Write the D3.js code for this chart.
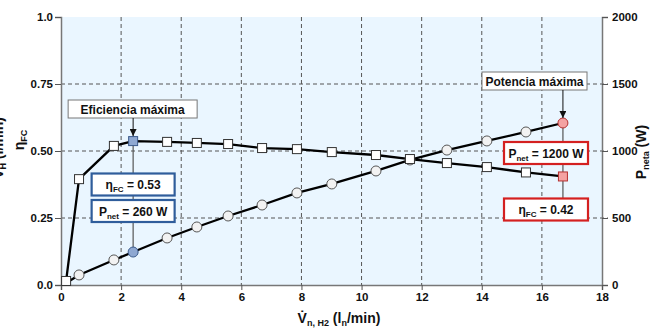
<!DOCTYPE html>
<html>
<head>
<meta charset="utf-8">
<script src="https://cdn.jsdelivr.net/npm/d3@7"></script>
<style>
  body { margin: 0; background: #fff; }
  text { font-family: "Liberation Sans", Arial, sans-serif; font-weight: bold; fill: #111; }
</style>
</head>
<body>
<svg id="chart" width="662" height="329"></svg>
<script>
// flow of hydrogen (ln/min)
const flow = [0.17, 0.6, 1.76, 2.4, 3.53, 4.52, 5.56, 6.69, 7.85, 9.01, 10.48, 11.61, 12.84, 14.17, 15.47, 16.7];
// fuel cell efficiency (left axis)
const eta = [0.015, 0.395, 0.519, 0.537, 0.534, 0.53, 0.526, 0.511, 0.507, 0.496, 0.485, 0.47, 0.455, 0.44, 0.42, 0.405];
// net power in W (right axis)
const pnet = [15, 75, 187, 246, 351, 433, 515, 597, 687, 754, 851, 933, 1007, 1075, 1142, 1209];

const xTicks = [0, 2, 4, 6, 8, 10, 12, 14, 16, 18];
const etaTicks = [0, 0.25, 0.5, 0.75, 1];
const etaLabels = ["0.0", "0.25", "0.50", "0.75", "1.0"];
const pTicks = [0, 500, 1000, 1500, 2000];

const maxEffIdx = 3;   // "Eficiencia máxima"
const maxPowIdx = 15;  // "Potencia máxima"

const svg = d3.select("#chart");
const pL = 61, pR = 602, pT = 17, pB = 285;

const x = d3.scaleLinear().domain([0, 18]).range([pL, pR]);
const yE = d3.scaleLinear().domain([0, 1]).range([pB, pT]);
const yP = d3.scaleLinear().domain([0, 2000]).range([pB, pT]);

svg.append("defs").append("marker")
  .attr("id", "arr").attr("viewBox", "0 0 10 10").attr("refX", 10).attr("refY", 5)
  .attr("markerWidth", 7).attr("markerHeight", 7).attr("orient", "auto")
  .append("path").attr("d", "M0,0 L10,5 L0,10 z").attr("fill", "#111");

svg.append("rect").attr("x", pL).attr("y", pT)
  .attr("width", pR - pL).attr("height", pB - pT).attr("fill", "#eaf6ff");

// grid
const grid = svg.append("g").attr("stroke", "#555").attr("stroke-dasharray", "4,3").attr("stroke-width", 1);
grid.selectAll("line.v").data(xTicks.slice(1, -1)).join("line").attr("class", "v")
  .attr("x1", d => x(d)).attr("x2", d => x(d)).attr("y1", pT).attr("y2", pB);
grid.selectAll("line.h").data(etaTicks.slice(1, -1)).join("line").attr("class", "h")
  .attr("x1", pL).attr("x2", pR + 6).attr("y1", d => yE(d)).attr("y2", d => yE(d));

// axes
const gx = svg.append("g").attr("transform", `translate(0,${pB})`)
  .call(d3.axisBottom(x).tickValues(xTicks).tickSize(5).tickPadding(3));
const gl = svg.append("g").attr("transform", `translate(${pL},0)`)
  .call(d3.axisLeft(yE).tickValues(etaTicks).tickFormat((d, i) => etaLabels[i]).tickSize(6).tickPadding(2));
const gr = svg.append("g").attr("transform", `translate(${pR},0)`)
  .call(d3.axisRight(yP).tickValues(pTicks).tickFormat(d3.format("d")).tickSize(6).tickPadding(4));
[gx, gl, gr].forEach(g => {
  g.select(".domain").attr("stroke", "#777").attr("stroke-width", 1.5);
  g.selectAll(".tick line").attr("stroke", "#555");
  g.selectAll(".tick text").attr("font-size", 11.5).attr("font-weight", "bold")
    .attr("font-family", "Liberation Sans, Arial, sans-serif").attr("fill", "#111");
});

// connector lines for highlighted points
const conn = svg.append("g").attr("stroke", "#555").attr("stroke-width", 1.2);
conn.append("line").attr("x1", x(flow[maxEffIdx])).attr("x2", x(flow[maxEffIdx]))
  .attr("y1", yE(eta[maxEffIdx])).attr("y2", yP(pnet[maxEffIdx]));
conn.append("line").attr("x1", x(flow[maxPowIdx])).attr("x2", x(flow[maxPowIdx]))
  .attr("y1", yP(pnet[maxPowIdx])).attr("y2", yE(eta[maxPowIdx]) + 30);

// lines
const idx = d3.range(flow.length);
svg.append("path").datum(idx).attr("fill", "none").attr("stroke", "#000").attr("stroke-width", 2.3)
  .attr("d", d3.line().x(i => x(flow[i])).y(i => yP(pnet[i])));
svg.append("path").datum(idx).attr("fill", "none").attr("stroke", "#000").attr("stroke-width", 2.3)
  .attr("d", d3.line().x(i => x(flow[i])).y(i => yE(eta[i])));

// markers
const fillFor = (i, base) => i === maxEffIdx ? "#8ea8d2" : i === maxPowIdx ? "#f4a2a2" : base;
const strokeFor = i => i === maxEffIdx ? "#3b5b8c" : i === maxPowIdx ? "#b53030" : "#555";
svg.append("g").selectAll("circle").data(idx.slice(1)).join("circle")
  .attr("cx", i => x(flow[i])).attr("cy", i => yP(pnet[i])).attr("r", 5)
  .attr("fill", i => fillFor(i, "#f2f2f2")).attr("stroke", strokeFor).attr("stroke-width", 1);
svg.append("g").selectAll("rect").data(idx).join("rect")
  .attr("x", i => x(flow[i]) - 4.5).attr("y", i => yE(eta[i]) - 4.5).attr("width", 9).attr("height", 9)
  .attr("fill", i => fillFor(i, "#fff")).attr("stroke", i => i === maxEffIdx || i === maxPowIdx ? strokeFor(i) : "#333")
  .attr("stroke-width", 1);

// annotation helpers
function box(cx, cy, w, h, color, sw) {
  svg.append("rect").attr("x", cx - w / 2).attr("y", cy - h / 2).attr("width", w).attr("height", h)
    .attr("fill", "#fff").attr("stroke", color).attr("stroke-width", sw);
}
function label(cx, cy, lead, sub, rest) {
  const t = svg.append("text").attr("x", cx).attr("y", cy + 4.5).attr("text-anchor", "middle").attr("font-size", 12);
  t.append("tspan").text(lead);
  t.append("tspan").text(sub).attr("font-size", 8).attr("dy", 3);
  t.append("tspan").text(rest).attr("dy", -3);
}

// Eficiencia máxima
const ex = x(flow[maxEffIdx]);
box(ex - 0.5, 109, 129, 18, "#777", 1);
svg.append("text").attr("x", ex - 0.5).attr("y", 113.5).attr("text-anchor", "middle").attr("font-size", 12).text("Eficiencia máxima");
svg.append("line").attr("x1", ex).attr("x2", ex).attr("y1", 118).attr("y2", yE(eta[maxEffIdx]) - 5)
  .attr("stroke", "#111").attr("stroke-width", 1).attr("marker-end", "url(#arr)");
box(ex, 184.5, 83, 22, "#2f5d9b", 2.2);
label(ex, 184.5, "η", "FC", " = 0.53");
box(ex, 211, 83, 22, "#2f5d9b", 2.2);
label(ex, 211, "P", "net", " = 260 W");

// Potencia máxima
const px = x(flow[maxPowIdx]);
box(534.5, 81, 105, 18, "#777", 1);
svg.append("text").attr("x", 534.5).attr("y", 85.5).attr("text-anchor", "middle").attr("font-size", 12).text("Potencia máxima");
svg.append("line").attr("x1", px).attr("x2", px).attr("y1", 90).attr("y2", yP(pnet[maxPowIdx]) - 5)
  .attr("stroke", "#111").attr("stroke-width", 1).attr("marker-end", "url(#arr)");
box(546, 153, 84, 22, "#d42020", 2.2);
label(546, 153, "P", "net", " = 1200 W");
box(546, 209.5, 84, 22, "#d42020", 2.2);
label(546, 209.5, "η", "FC", " = 0.42");

// axis titles
const xt = svg.append("text").attr("x", 339).attr("y", 323).attr("text-anchor", "middle").attr("font-size", 14);
xt.append("tspan").text("V̇");
xt.append("tspan").text("n, H2").attr("font-size", 9).attr("dy", 3);
xt.append("tspan").text(" (l").attr("dy", -3);
xt.append("tspan").text("n").attr("font-size", 9).attr("dy", 3);
xt.append("tspan").text("/min)").attr("dy", -3);

const rt = svg.append("text").attr("transform", "translate(646,152) rotate(-90)").attr("text-anchor", "middle").attr("font-size", 14);
rt.append("tspan").text("P");
rt.append("tspan").text("neta").attr("font-size", 9).attr("dy", 3);
rt.append("tspan").text(" (W)").attr("dy", -3);

const lt = svg.append("text").attr("transform", "translate(24,140) rotate(-90)").attr("text-anchor", "middle").attr("font-size", 14);
lt.append("tspan").text("η");
lt.append("tspan").text("FC").attr("font-size", 9).attr("dy", 3);

// partly outside the frame, as in the original figure
const lt2 = svg.append("text").attr("transform", "translate(3,148) rotate(-90)").attr("text-anchor", "middle").attr("font-size", 14);
lt2.append("tspan").text("V̇");
lt2.append("tspan").text("H").attr("font-size", 9).attr("dy", 3);
lt2.append("tspan").text(" (l/min)").attr("dy", -3);
</script>
</body>
</html>
